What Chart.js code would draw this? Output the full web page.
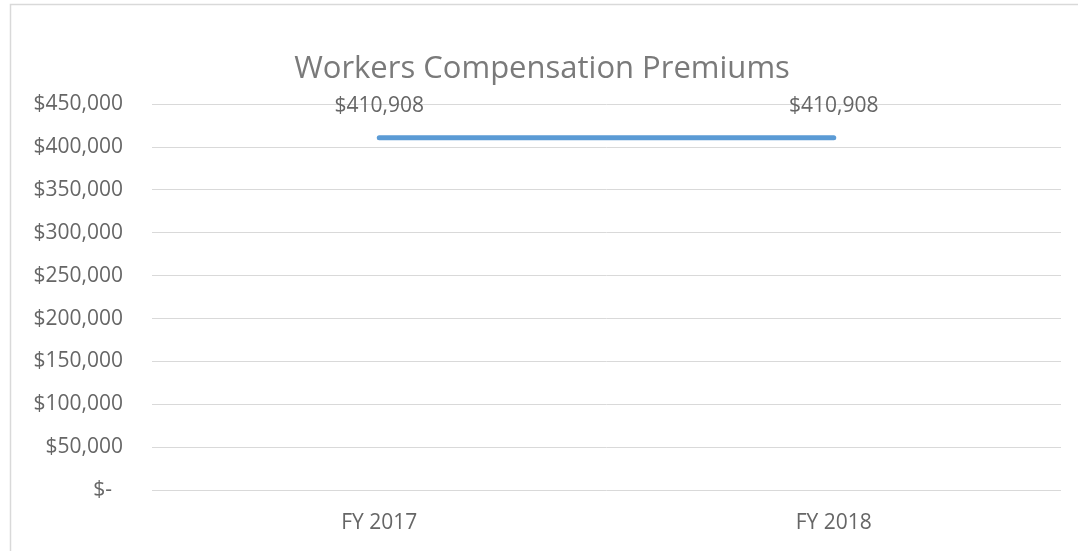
<!DOCTYPE html>
<html>
<head>
<meta charset="utf-8">
<script src="https://cdn.jsdelivr.net/npm/chart.js@4/dist/chart.umd.min.js"></script>
<style>
  html, body { margin: 0; padding: 0; background: #fff; }
  #wrap { position: relative; width: 1078px; height: 551px; }
</style>
</head>
<body>
<div id="wrap"><canvas id="graficoPremios"></canvas></div>
<script>
// dados
const anos = ['FY 2017', 'FY 2018'];
const premios = [410908, 410908];
const yMin = 0;
const yMax = 450000;
const yPasso = 50000;

function formatarDolar(v) {
  if (v === 0) return '$-  ';
  return '$' + v.toLocaleString('en-US');
}

// moldura cinza clara à volta do gráfico
const moldura = {
  id: 'moldura',
  beforeDraw(chart) {
    const c = chart.ctx;
    c.save();
    c.fillStyle = '#ffffff';
    c.fillRect(0, 0, chart.width, chart.height);
    c.strokeStyle = '#d9d9d9';
    c.lineWidth = 1.5;
    c.strokeRect(10.5, 4.5, chart.width + 20, chart.height + 20);
    c.restore();
  }
};

// rótulos de valor acima de cada ponto
const rotulos = {
  id: 'rotulos',
  afterDatasetsDraw(chart) {
    const c = chart.ctx;
    const meta = chart.getDatasetMeta(0);
    c.save();
    c.font = '21px "Open Sans"';
    c.fillStyle = '#666666';
    c.textAlign = 'center';
    c.textBaseline = 'middle';
    meta.data.forEach(function (pt, i) {
      c.fillText(formatarDolar(chart.data.datasets[0].data[i]), pt.x, pt.y - 32);
    });
    c.restore();
  }
};

document.addEventListener('DOMContentLoaded', function () {
  const ctx = document.getElementById('graficoPremios');
  new Chart(ctx.getContext('2d'), {
    type: 'line',
    data: {
      labels: anos,
      datasets: [{
        label: 'Workers Compensation Premiums',
        data: premios,
        borderColor: '#5b9bd5',
        backgroundColor: '#5b9bd5',
        borderWidth: 5,
        borderCapStyle: 'round',
        pointRadius: 0,
        fill: false
      }]
    },
    options: {
      responsive: true,
      maintainAspectRatio: false,
      animation: false,
      layout: { padding: { top: 0, bottom: 18, left: 23, right: 17 } },
      scales: {
        x: {
          offset: true,
          grid: { display: false, drawTicks: false },
          border: { display: false },
          ticks: { color: '#666666', font: { family: 'Open Sans', size: 21 }, padding: 20, maxRotation: 0 },
          afterFit: function (scale) { scale.height = 43; }
        },
        y: {
          min: yMin,
          max: yMax,
          grid: { color: '#d9d9d9', lineWidth: 1, drawTicks: false },
          border: { display: false },
          ticks: {
            stepSize: yPasso,
            color: '#666666',
            font: { family: 'Open Sans', size: 21 },
            padding: 29,
            callback: function (v) { return formatarDolar(v); }
          },
          afterFit: function (scale) { scale.width = 129; }
        }
      },
      plugins: {
        legend: { display: false },
        tooltip: { enabled: false },
        title: {
          display: true,
          text: 'Workers Compensation Premiums',
          color: '#7a7a7a',
          font: { family: 'Open Sans', size: 31, weight: 'normal', lineHeight: 1.2 },
          padding: { top: 51, bottom: 16 }
        }
      }
    },
    plugins: [moldura, rotulos]
  });
});
</script>
</body>
</html>
